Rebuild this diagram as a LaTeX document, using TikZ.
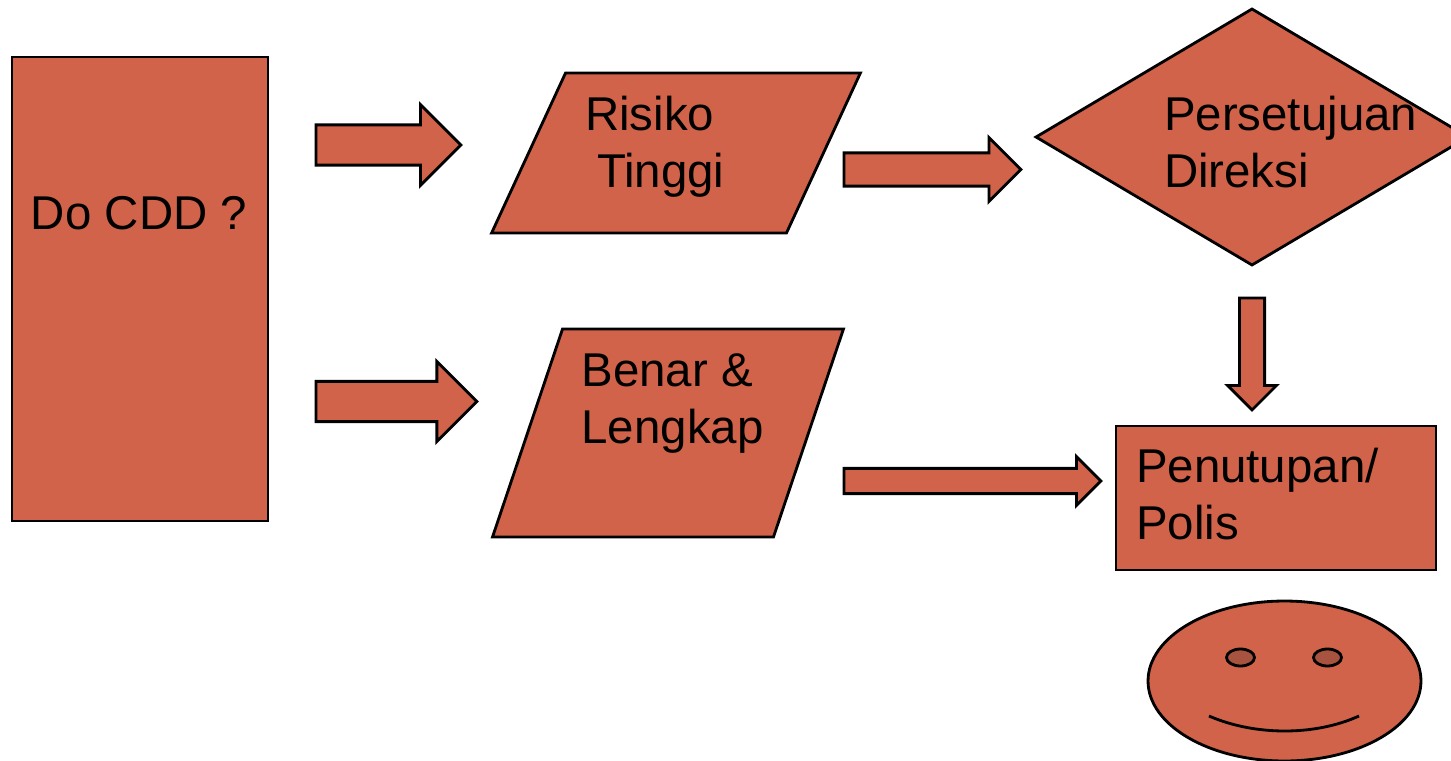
\documentclass[tikz,border=0pt]{standalone}
\usepackage{fontspec}
\setmainfont{Liberation Sans}
\usepackage{xcolor}
\usetikzlibrary{shapes.geometric,shapes.arrows}
\definecolor{flowfill}{HTML}{D0634A}
\definecolor{eyefill}{HTML}{A85340}

\begin{document}
\begin{tikzpicture}[
  x=0.02cm, y=-0.02cm,
  every node/.style={inner sep=0pt, outer sep=0pt},
  shapebox/.style={draw=black, line width=1.6pt, fill=flowfill},
  slantbox/.style={shapebox, trapezium},
  blockarrow/.style={shapebox, single arrow, single arrow head indent=0pt, anchor=tail},
  label text/.style={anchor=base west, align=left, text=black,
                     font=\fontsize{27}{32}\selectfont},
]
  \useasboundingbox (0,0) rectangle (1451,761);

  % --- Question box ---
  \node[shapebox, minimum width=5.12cm, minimum height=9.28cm] (cdd) at (140,289) {};

  % --- Upper route ---
  \node[slantbox, trapezium left angle=65.2, trapezium right angle=114.8,
        inner xsep=2.21cm, inner ysep=1.6cm] (risiko) at (676,153) {};
  \node[shapebox, diamond, minimum width=8.64cm, minimum height=5.12cm] (direksi) at (1252,137) {};

  % --- Lower route ---
  \node[slantbox, trapezium left angle=71.4, trapezium right angle=108.6,
        inner xsep=2.11cm, inner ysep=2.08cm] (benar) at (668,433) {};
  \node[shapebox, minimum width=6.4cm, minimum height=2.88cm] (polis) at (1276,498) {};

  % --- Block arrows ---
  \node[blockarrow, inner ysep=0.374cm, minimum height=2.9cm,
        single arrow head extend=0.406cm] (cddrisiko) at (316,145) {};
  \node[blockarrow, inner ysep=0.374cm, minimum height=3.22cm,
        single arrow head extend=0.4cm] (cddbenar) at (316,401.5) {};
  \node[blockarrow, inner ysep=0.304cm, minimum height=3.54cm,
        single arrow head extend=0.306cm] (risikodireksi) at (844,169.5) {};
  \node[blockarrow, inner ysep=0.224cm, minimum height=5.14cm,
        single arrow head extend=0.236cm] (benarpolis) at (844,481) {};
  \node[blockarrow, rotate=-90, inner ysep=0.224cm, minimum height=2.24cm,
        single arrow head extend=0.236cm] (direksipolis) at (1252,298) {};

  % --- Labels ---
  \node[label text] (cddtext) at (31,229) {Do CDD ?};
  \node[label text] (risikotext) at (585,187) {Risiko\\\hspace{0.24cm}Tinggi};
  \node[label text] (direksitext) at (1164,187) {Persetujuan\\Direksi};
  \node[label text] (benartext) at (581.5,443) {Benar \&\\Lengkap};
  \node[label text] (polistext) at (1136,539) {Penutupan/\\Polis};

  % --- Smiling face ---
  \node[shapebox, ellipse, minimum width=5.46cm, minimum height=3.2cm] (face) at (1284.5,681) {};
  \node[shapebox, ellipse, fill=eyefill, minimum width=0.56cm, minimum height=0.34cm] (eyeleft) at (1240.5,657.5) {};
  \node[shapebox, ellipse, fill=eyefill, minimum width=0.56cm, minimum height=0.34cm] (eyeright) at (1327.5,657.5) {};
  \draw[line width=1.6pt] (1209,716) .. controls (1255,736) and (1315,736) .. (1359,716);
\end{tikzpicture}
\end{document}
